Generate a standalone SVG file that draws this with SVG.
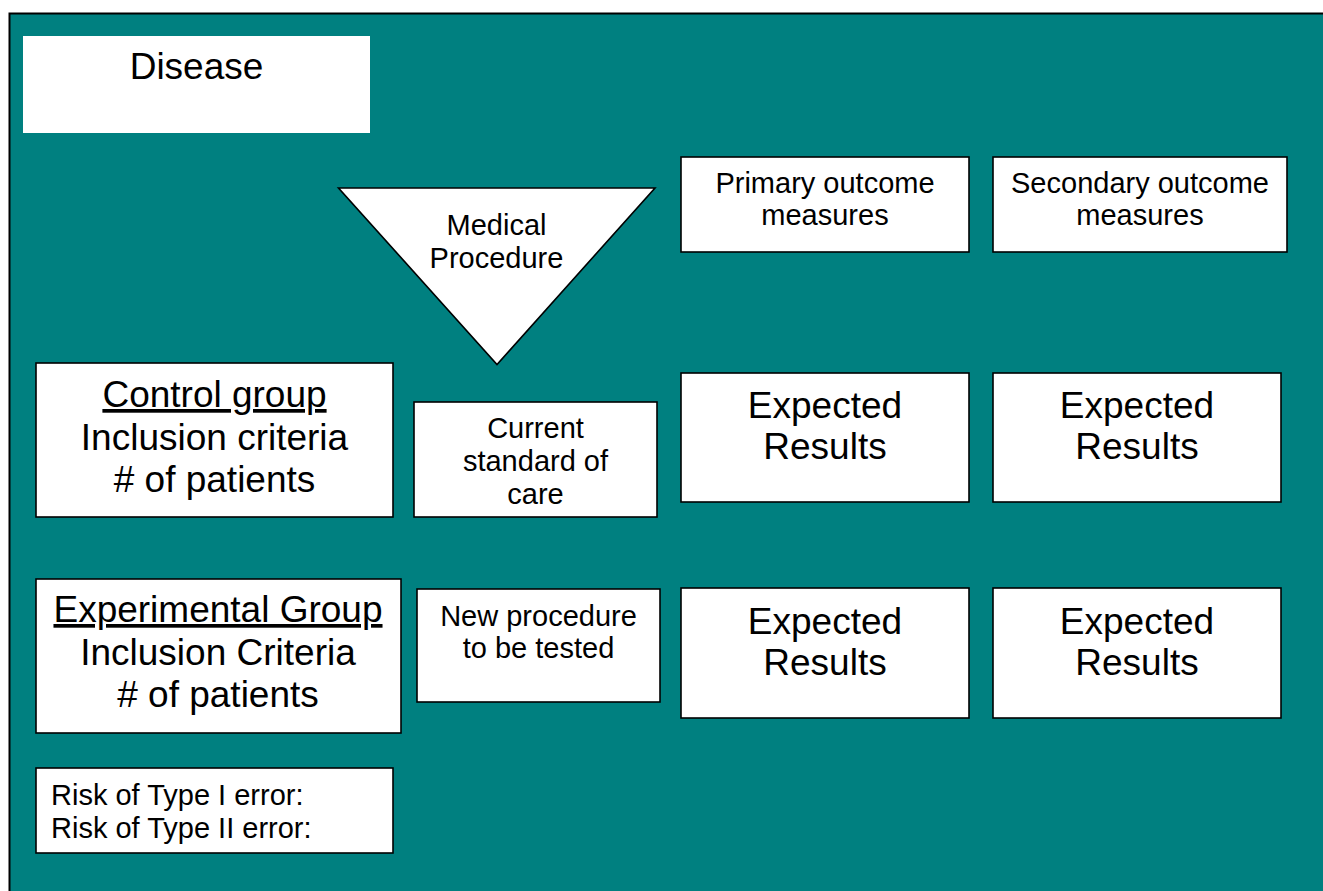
<svg xmlns="http://www.w3.org/2000/svg" width="1323" height="891" viewBox="0 0 1323 891">
<style>
.box{fill:#fff;stroke:#000;stroke-width:1.6}
.t{font-family:"Liberation Sans",Arial,sans-serif;fill:#000;text-anchor:middle}
.big{font-size:37px}
.sm{font-size:29px}
.left{text-anchor:start}
</style>
<rect x="9.5" y="13.5" width="1330" height="900" fill="#008080" stroke="#000" stroke-width="2"/>
<g id="connectors"/>
<g id="disease">
<rect x="23" y="36" width="347" height="97" fill="#fff"/>
<text class="t big" x="196.5" y="79">Disease</text>
</g>
<g id="medical-procedure">
<polygon class="box" points="338.5,188 655,188 497,364.5"/>
<text class="t sm" x="496.5" y="235">Medical</text>
<text class="t sm" x="496.5" y="268">Procedure</text>
</g>
<g id="primary-outcome">
<rect class="box" x="681" y="157" width="288" height="95"/>
<text class="t sm" x="825" y="193">Primary outcome</text>
<text class="t sm" x="825" y="225">measures</text>
</g>
<g id="secondary-outcome">
<rect class="box" x="993" y="157" width="294" height="95"/>
<text class="t sm" x="1140" y="193">Secondary outcome</text>
<text class="t sm" x="1140" y="225">measures</text>
</g>
<g id="control-group">
<rect class="box" x="36" y="363" width="357" height="154"/>
<text class="t big" x="214.5" y="407" text-decoration="underline">Control group</text>
<text class="t big" x="214.5" y="450">Inclusion criteria</text>
<text class="t big" x="214.5" y="492">&#35; of patients</text>
</g>
<g id="current-standard">
<rect class="box" x="414" y="402" width="243" height="115"/>
<text class="t sm" x="535.5" y="438">Current</text>
<text class="t sm" x="535.5" y="471">standard of</text>
<text class="t sm" x="535.5" y="504">care</text>
</g>
<g id="expected-1a">
<rect class="box" x="681" y="373" width="288" height="129"/>
<text class="t big" x="825" y="418">Expected</text>
<text class="t big" x="825" y="459">Results</text>
</g>
<g id="expected-1b">
<rect class="box" x="993" y="373" width="288" height="129"/>
<text class="t big" x="1137" y="418">Expected</text>
<text class="t big" x="1137" y="459">Results</text>
</g>
<g id="experimental-group">
<rect class="box" x="36" y="579" width="365" height="154"/>
<text class="t big" x="218" y="622" text-decoration="underline">Experimental Group</text>
<text class="t big" x="218" y="665">Inclusion Criteria</text>
<text class="t big" x="218" y="707">&#35; of patients</text>
</g>
<g id="new-procedure">
<rect class="box" x="417" y="589" width="243" height="113"/>
<text class="t sm" x="538.5" y="626">New procedure</text>
<text class="t sm" x="538.5" y="658">to be tested</text>
</g>
<g id="expected-2a">
<rect class="box" x="681" y="588" width="288" height="130"/>
<text class="t big" x="825" y="634">Expected</text>
<text class="t big" x="825" y="675">Results</text>
</g>
<g id="expected-2b">
<rect class="box" x="993" y="588" width="288" height="130"/>
<text class="t big" x="1137" y="634">Expected</text>
<text class="t big" x="1137" y="675">Results</text>
</g>
<g id="risk">
<rect class="box" x="36" y="768" width="357" height="85"/>
<text class="t sm left" x="51" y="805">Risk of Type I error:</text>
<text class="t sm left" x="51" y="838">Risk of Type II error:</text>
</g>
</svg>
